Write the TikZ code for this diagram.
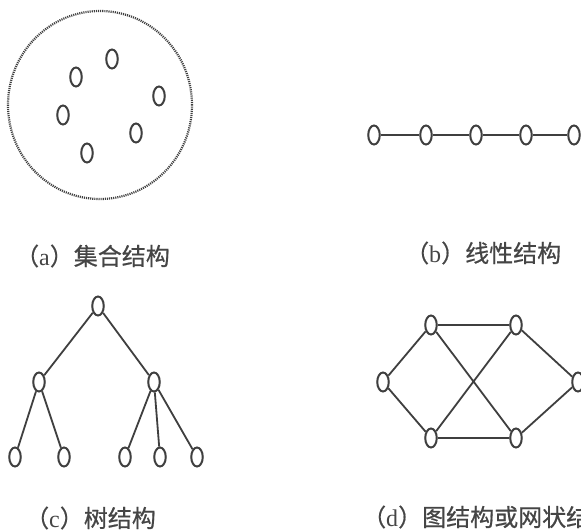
\documentclass[tikz,border=0pt]{standalone}
\usepackage{fontspec}
\setmainfont{Liberation Serif}
\newfontfamily\cjk[FakeBold=0.6]{Noto Sans CJK SC}
\usetikzlibrary{shapes.geometric}
\definecolor{ink}{HTML}{3f3f3f}
\definecolor{txt}{HTML}{454545}
\begin{document}
\begin{tikzpicture}[x=1pt,y=-1pt,
  vtx/.style={draw=ink,ellipse,line width=2pt,minimum width=11.5pt,minimum height=19pt,inner sep=0pt,fill=white},
  edge/.style={draw=ink,line width=1.8pt},
  capt/.style={anchor=west,inner sep=0pt,text=txt,font=\fontsize{24}{28}\selectfont}]
\clip (0,0) rectangle (581,531);
\fill[white] (0,0) rectangle (581,531);
% (a) set
\draw[ink,line width=2.2pt,dash pattern=on 1.1pt off 1.0pt] (100,105) ellipse (92pt and 94pt);
\node[vtx] (s1) at (112,59) {};
\node[vtx] (s2) at (76,77) {};
\node[vtx] (s3) at (159,96) {};
\node[vtx] (s4) at (63,115) {};
\node[vtx] (s5) at (136,133) {};
\node[vtx] (s6) at (87,153) {};
\node[capt] (la) at (15,256) {{\cjk （}a{\cjk ）集合结构}};
% (b) linear
\node[vtx] (l1) at (374,135) {};
\node[vtx] (l2) at (426,135) {};
\node[vtx] (l3) at (476,135) {};
\node[vtx] (l4) at (526,135) {};
\node[vtx] (l5) at (574,135) {};
\draw[edge] (l1) -- (l2) (l2) -- (l3) (l3) -- (l4) (l4) -- (l5);
\node[capt] (lb) at (405,253) {{\cjk （}b{\cjk ）线性结构}};
% (c) tree
\node[vtx] (r) at (98,306) {};
\node[vtx] (m1) at (39,382) {};
\node[vtx] (m2) at (154,382) {};
\node[vtx] (t1) at (15,457) {};
\node[vtx] (t2) at (64,457) {};
\node[vtx] (t3) at (125,457) {};
\node[vtx] (t4) at (160,457) {};
\node[vtx] (t5) at (197,457) {};
\draw[edge] (r) -- (m1) (r) -- (m2) (m1) -- (t1) (m1) -- (t2)
  (m2) -- (t3) (m2) -- (t4) (m2) -- (t5);
\node[capt] (lc) at (25,518) {{\cjk （}c{\cjk ）树结构}};
% (d) graph
\node[vtx] (g1) at (431,325) {};
\node[vtx] (g2) at (516,325) {};
\node[vtx] (g3) at (383,382) {};
\node[vtx] (g4) at (578,382) {};
\node[vtx] (g5) at (431,438) {};
\node[vtx] (g6) at (516,438) {};
\draw[edge] (g3) -- (g1) (g3) -- (g5) (g1) -- (g2) (g5) -- (g6)
  (g1) -- (g6) (g5) -- (g2) (g2) -- (g4) (g6) -- (g4);
\node[capt] (ld) at (362,517) {{\cjk （}d{\cjk ）图结构或网状结构}};
\end{tikzpicture}
\end{document}
